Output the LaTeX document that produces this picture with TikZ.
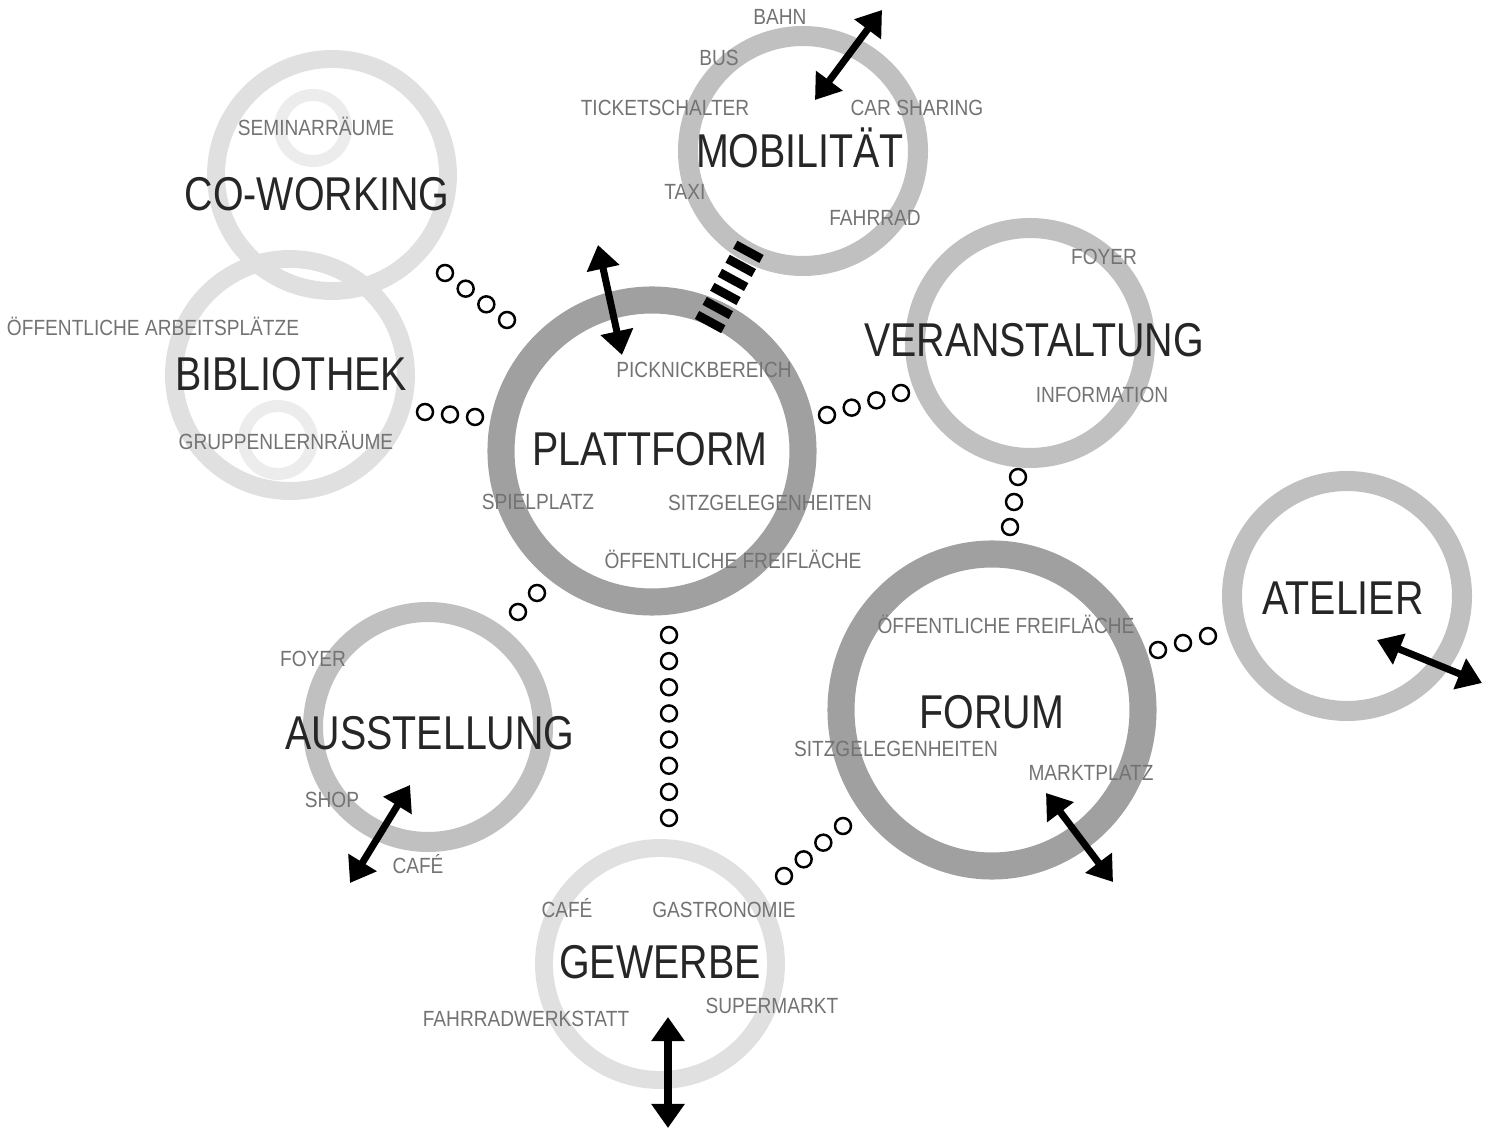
\documentclass[tikz,border=0pt]{standalone}
\usepackage{fontspec}
\setmainfont{Liberation Sans}
\newfontfamily\bigfont[FakeStretch=0.83]{Liberation Sans}
\newfontfamily\smallfont[FakeStretch=0.87]{Liberation Sans}
\usetikzlibrary{arrows.meta,calc}

\definecolor{ringlight}{HTML}{E0E0E0}
\definecolor{ringpale}{HTML}{ECECEC}
\definecolor{ringmid}{HTML}{C0C0C0}
\definecolor{ringdark}{HTML}{A0A0A0}

\begin{document}
\begin{tikzpicture}[x=0.2mm, y=-0.2mm]
    \tikzstyle{lightring} = [draw=ringlight, line width=10.2pt]
    \tikzstyle{palering} = [draw=ringpale, line width=6.8pt]
    \tikzstyle{midring} = [draw=ringmid, line width=11.4pt]
    \tikzstyle{darkring} = [draw=ringdark, line width=15.4pt]
    \tikzstyle{title} = [inner sep=0, text height=19.3pt, text depth=0pt, text=black!85, font=\bigfont\fontsize{27}{27}\selectfont]
    \tikzstyle{item} = [inner sep=0, text height=9pt, text depth=0pt, text=black!55, font=\smallfont\fontsize{12.5}{12.5}\selectfont]
    \tikzstyle{dot} = [draw=black, line width=1.4pt]
    \tikzstyle{link} = [{Triangle[length=13.7pt,width=18.2pt]}-{Triangle[length=13.7pt,width=18.2pt]}, line width=4pt]
    \tikzstyle{stripes} = [draw=black, line width=17pt, dash pattern=on 5.1pt off 4pt]

    \useasboundingbox (0,0) rectangle (1495,1135);

    % Ring centres
    \coordinate (cowork) at (332,175);
    \coordinate (biblio) at (290,375);
    \coordinate (mobil) at (803,151);
    \coordinate (platt) at (652,451);
    \coordinate (veran) at (1030,343);
    \coordinate (atelier) at (1347,596);
    \coordinate (forum) at (992,710);
    \coordinate (ausst) at (428,727);
    \coordinate (gewerbe) at (660,964);

    % Rings
    \draw [lightring] (cowork) circle [radius=116];
    \draw [lightring] (biblio) circle [radius=116];
    \draw [palering] (313,128) circle [radius=33];
    \draw [palering] (278,440) circle [radius=34];
    \draw [lightring] (gewerbe) circle [radius=116];
    \draw [midring] (mobil) circle [radius=115];
    \draw [midring] (veran) circle [radius=115];
    \draw [midring] (atelier) circle [radius=115];
    \draw [midring] (ausst) circle [radius=115];
    \draw [darkring] (platt) circle [radius=151];
    \draw [darkring] (forum) ellipse [x radius=151, y radius=156];

    % Mobilitaet
    \node [title] (mobiltext) at (800,151) {MOBILITÄT};
    \node [item] (bahn) at (780,17) {BAHN};
    \node [item] (bus) at (719,58) {BUS};
    \node [item] (ticket) at (665,108) {TICKETSCHALTER};
    \node [item] (carsharing) at (917,108) {CAR SHARING};
    \node [item] (taxi) at (685,192) {TAXI};
    \node [item] (fahrrad) at (875,218) {FAHRRAD};

    % Co-Working and Bibliothek
    \node [title] (coworktext) at (317,194) {CO-WORKING};
    \node [item] (seminar) at (316,128) {SEMINARRÄUME};
    \node [title] (bibliotext) at (291,374) {BIBLIOTHEK};
    \node [item] (arbeit) at (153,328) {ÖFFENTLICHE ARBEITSPLÄTZE};
    \node [item] (gruppen) at (286,442) {GRUPPENLERNRÄUME};

    % Plattform
    \node [title] (platttext) at (650,449) {PLATTFORM};
    \node [item] (picknick) at (704,370) {PICKNICKBEREICH};
    \node [item] (spiel) at (538,502) {SPIELPLATZ};
    \node [item] (sitzP) at (770,503) {SITZGELEGENHEITEN};
    \node [item] (freiP) at (733,561) {ÖFFENTLICHE FREIFLÄCHE};

    % Veranstaltung
    \node [title] (verantext) at (1034,340) {VERANSTALTUNG};
    \node [item] (foyerV) at (1104,257) {FOYER};
    \node [item] (info) at (1102,395) {INFORMATION};

    % Atelier and Forum
    \node [title] (ateliertext) at (1343,598) {ATELIER};
    \node [title] (forumtext) at (992,712) {FORUM};
    \node [item] (freiF) at (1006,626) {ÖFFENTLICHE FREIFLÄCHE};
    \node [item] (sitzF) at (896,749) {SITZGELEGENHEITEN};
    \node [item] (markt) at (1091,773) {MARKTPLATZ};

    % Ausstellung
    \node [title] (aussttext) at (430,733) {AUSSTELLUNG};
    \node [item] (foyerA) at (313,659) {FOYER};
    \node [item] (shop) at (332,800) {SHOP};
    \node [item] (cafeA) at (418,866) {CAFÉ};

    % Gewerbe
    \node [title] (gewerbetext) at (660,962) {GEWERBE};
    \node [item] (cafeG) at (567,910) {CAFÉ};
    \node [item] (gastro) at (724,910) {GASTRONOMIE};
    \node [item] (supermarkt) at (772,1006) {SUPERMARKT};
    \node [item] (werkstatt) at (526,1019) {FAHRRADWERKSTATT};

    % Dotted links
    \coordinate (cw1) at (445,273); \coordinate (cw2) at (507,320);
    \coordinate (bb1) at (425,412); \coordinate (bb2) at (475,417);
    \coordinate (pv1) at (827,415); \coordinate (pv2) at (901,393);
    \coordinate (vf1) at (1018,477); \coordinate (vf2) at (1010,527);
    \coordinate (fa1) at (1158,650); \coordinate (fa2) at (1208,636);
    \coordinate (pa1) at (537,593); \coordinate (pa2) at (518,612);
    \coordinate (pg1) at (669,635); \coordinate (pg2) at (669,818);
    \coordinate (gf1) at (784,876); \coordinate (gf2) at (843,826);
    \foreach \s/\e/\n in {cw1/cw2/3, bb1/bb2/2, pv1/pv2/3, vf1/vf2/2, fa1/fa2/2, pa1/pa2/1, pg1/pg2/7, gf1/gf2/3}
        \foreach \i in {0,...,\n}
            \draw [dot] ($(\s)!\i/\n!(\e)$) circle [radius=8];

    % Striped link
    \coordinate (st1) at (708,326);
    \coordinate (st2) at (751,247);
    \draw [stripes] (st1) -- (st2);

    % Access arrows
    \coordinate (pA1) at (598,245); \coordinate (pA2) at (622,355);
    \coordinate (mA1) at (882,10); \coordinate (mA2) at (815,100);
    \coordinate (aA1) at (1377,640); \coordinate (aA2) at (1482,683);
    \coordinate (fA1) at (1046,793); \coordinate (fA2) at (1113,882);
    \coordinate (sA1) at (410,785); \coordinate (sA2) at (350,883);
    \coordinate (gA1) at (668,1017); \coordinate (gA2) at (668,1128);
    \draw [link] (pA1) -- (pA2);
    \draw [link] (mA1) -- (mA2);
    \draw [link] (aA1) -- (aA2);
    \draw [link] (fA1) -- (fA2);
    \draw [link] (sA1) -- (sA2);
    \draw [link] (gA1) -- (gA2);
\end{tikzpicture}
\end{document}
